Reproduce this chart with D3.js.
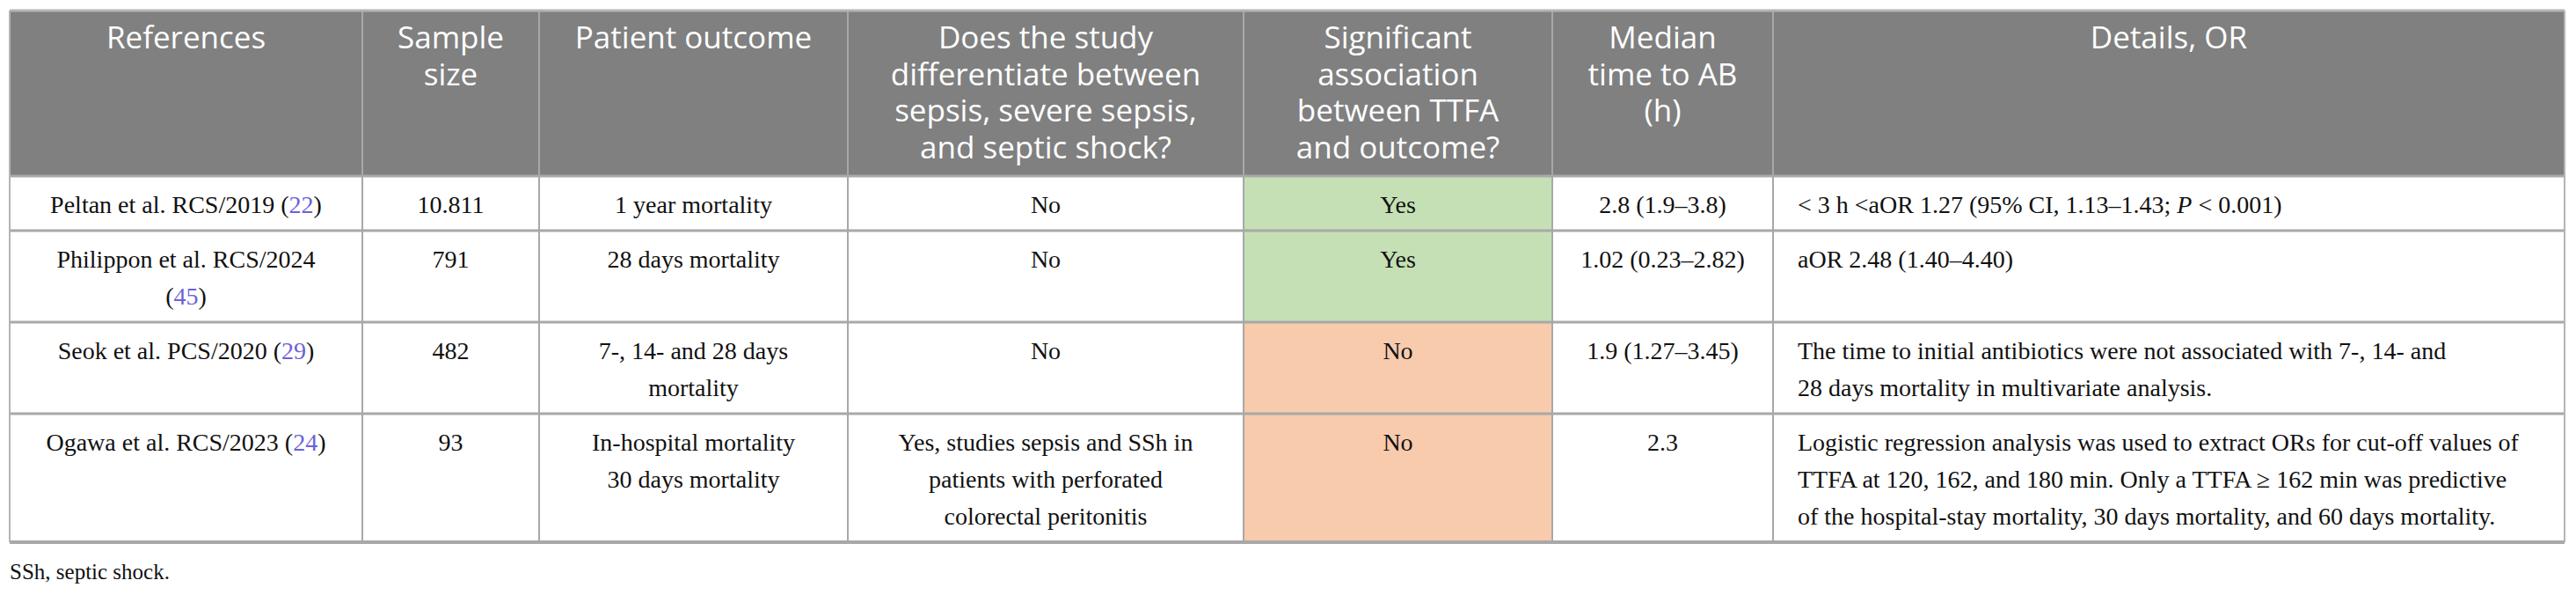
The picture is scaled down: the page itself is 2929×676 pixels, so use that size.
<!DOCTYPE html>
<html>
<head>
<meta charset="utf-8">
<script src="https://cdn.jsdelivr.net/npm/d3@7"></script>
<style>
  body { margin: 0; background: #fff; }
</style>
</head>
<body>
<svg id="table"></svg>
<script>
const pageWidth = 2929
const pageHeight = 676

// Table content. "\n" = line break,
// [..] = reference number (link colour), *..* = italic
const columns = [
    "References",
    "Sample\nsize",
    "Patient outcome",
    "Does the study\ndifferentiate between\nsepsis, severe sepsis,\nand septic shock?",
    "Significant\nassociation\nbetween TTFA\nand outcome?",
    "Median\ntime to AB\n(h)",
    "Details, OR"
];
const references = [
    "Peltan et al. RCS/2019 ([22])",
    "Philippon et al. RCS/2024\n([45])",
    "Seok et al. PCS/2020 ([29])",
    "Ogawa et al. RCS/2023 ([24])"
];
const sampleSizes = ["10.811", "791", "482", "93"];
const outcomes = [
    "1 year mortality",
    "28 days mortality",
    "7-, 14- and 28 days\nmortality",
    "In-hospital mortality\n30 days mortality"
];
const differentiates = [
    "No",
    "No",
    "No",
    "Yes, studies sepsis and SSh in\npatients with perforated\ncolorectal peritonitis"
];
const significant = ["Yes", "Yes", "No", "No"];
const medianTimes = ["2.8 (1.9–3.8)", "1.02 (0.23–2.82)", "1.9 (1.27–3.45)", "2.3"];
const details = [
    "< 3 h <aOR 1.27 (95% CI, 1.13–1.43; *P* < 0.001)",
    "aOR 2.48 (1.40–4.40)",
    "The time to initial antibiotics were not associated with 7-, 14- and\n28 days mortality in multivariate analysis.",
    "Logistic regression analysis was used to extract ORs for cut-off values of\nTTFA at 120, 162, and 180 min. Only a TTFA ≥ 162 min was predictive\nof the hospital-stay mortality, 30 days mortality, and 60 days mortality."
];
const footnote = "SSh, septic shock.";

// Layout
const colWidths = [401, 201, 351, 450, 351, 251, 900];
const tableLeft = 11, tableTop = 12;
const headerHeight = 188;
const lineH = 42;
const headerLineH = 41.7;
const detailsPad = 28;

const rows = d3.range(references.length).map(i => [
    references[i], sampleSizes[i], outcomes[i], differentiates[i],
    significant[i], medianTimes[i], details[i]
]);

var svg = d3.select('#table')
    .attr('width', pageWidth)
    .attr('height', pageHeight);

// column positions
var colEdges = [tableLeft].concat(Array.from(d3.cumsum(colWidths), d => tableLeft + d));
var xScale = d3.scaleOrdinal()
    .domain(d3.range(columns.length))
    .range(colEdges.slice(0, -1));
var tableRight = colEdges[colEdges.length - 1];

// row positions from the number of text lines
var rowHeights = rows.map(r => d3.max(r, c => c.split('\n').length) * lineH + 20);
var bodyTop = tableTop + headerHeight;
var rowEdges = [bodyTop].concat(Array.from(d3.cumsum(rowHeights), d => bodyTop + d));
var yScale = d3.scaleOrdinal()
    .domain(d3.range(rows.length))
    .range(rowEdges.slice(0, -1));
var tableBottom = rowEdges[rowEdges.length - 1];

var fillScale = d3.scaleOrdinal()
    .domain(["Yes", "No"])
    .range(["#c5e0b4", "#f8cbad"]);

// Header background
svg.append('rect')
    .attr('x', tableLeft).attr('y', tableTop)
    .attr('width', tableRight - tableLeft).attr('height', headerHeight)
    .attr('fill', '#808080');

// Coloured cells in the "Significant association" column
svg.selectAll('rect.sig')
    .data(significant)
    .enter()
    .append('rect')
    .attr('class', 'sig')
    .attr('x', xScale(4))
    .attr('y', (d, i) => yScale(i))
    .attr('width', colWidths[4])
    .attr('height', (d, i) => rowHeights[i])
    .attr('fill', d => fillScale(d));

// Vertical separators
svg.selectAll('line.vsep')
    .data(colEdges.slice(1, -1))
    .enter()
    .append('line')
    .attr('class', 'vsep')
    .attr('x1', d => d).attr('x2', d => d)
    .attr('y1', tableTop).attr('y2', tableBottom)
    .attr('stroke', '#a8a8a8')
    .attr('stroke-width', 2);

// Horizontal separators
svg.selectAll('line.hsep')
    .data(rowEdges)
    .enter()
    .append('line')
    .attr('class', 'hsep')
    .attr('x1', tableLeft).attr('x2', tableRight)
    .attr('y1', d => d).attr('y2', d => d)
    .attr('stroke', '#a8a8a8')
    .attr('stroke-width', (d, i) => i == rowEdges.length - 1 ? 4 : 3);

// Outer border
svg.append('line')
    .attr('x1', tableLeft).attr('x2', tableRight)
    .attr('y1', tableTop).attr('y2', tableTop)
    .attr('stroke', '#b4b4b4').attr('stroke-width', 3);
svg.append('line')
    .attr('x1', tableLeft).attr('x2', tableLeft)
    .attr('y1', tableTop).attr('y2', tableBottom)
    .attr('stroke', '#b4b4b4').attr('stroke-width', 2);
svg.append('line')
    .attr('x1', tableRight).attr('x2', tableRight)
    .attr('y1', tableTop).attr('y2', tableBottom)
    .attr('stroke', '#b4b4b4').attr('stroke-width', 2);

// Split "[22]" and "*P*" markup into tspans
function addSegments(textSel, line) {
    var parts = line.split(/(\[[^\]]+\]|\*[^*]+\*)/).filter(p => p.length);
    for (let p of parts) {
        var span = textSel.append('tspan');
        if (p[0] == '[') {
            span.text(p.slice(1, -1)).attr('fill', '#6b62d8');
        } else if (p[0] == '*') {
            span.text(p.slice(1, -1)).attr('font-style', 'italic');
        } else {
            span.text(p);
        }
    }
}

// Header text
columns.forEach((col, j) => {
    col.split('\n').forEach((line, k) => {
        svg.append('text')
            .attr('x', xScale(j) + colWidths[j] / 2)
            .attr('y', tableTop + 43 + k * headerLineH)
            .attr('text-anchor', 'middle')
            .attr('font-family', '"Open Sans", sans-serif')
            .attr('font-size', 35)
            .attr('fill', 'white')
            .text(line);
    });
});

// Body text
rows.forEach((row, i) => {
    row.forEach((cell, j) => {
        cell.split('\n').forEach((line, k) => {
            var isLeft = j == columns.length - 1;
            var t = svg.append('text')
                .attr('x', isLeft ? xScale(j) + detailsPad : xScale(j) + colWidths[j] / 2)
                .attr('y', yScale(i) + 42 + k * lineH)
                .attr('text-anchor', isLeft ? 'start' : 'middle')
                .attr('font-family', '"Liberation Serif", "Times New Roman", serif')
                .attr('font-size', 28)
                .attr('fill', '#111');
            addSegments(t, line);
        });
    });
});

// Footnote
svg.append('text')
    .attr('x', tableLeft)
    .attr('y', tableBottom + 42)
    .attr('font-family', '"Liberation Serif", "Times New Roman", serif')
    .attr('font-size', 25)
    .attr('fill', '#111')
    .text(footnote);
</script>
</body>
</html>
